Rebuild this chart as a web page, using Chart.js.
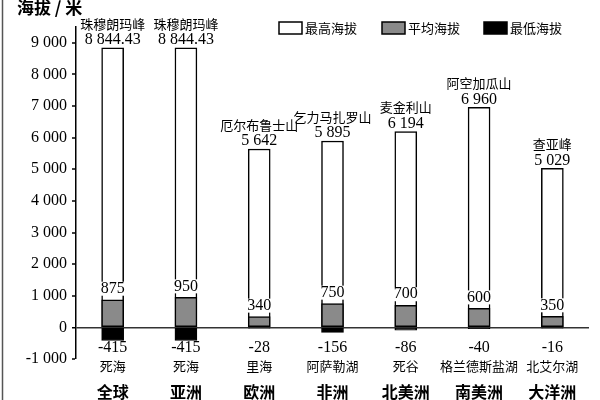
<!DOCTYPE html>
<html>
<head>
<meta charset="utf-8">
<script src="https://cdn.jsdelivr.net/npm/chart.js@4.4.1/dist/chart.umd.min.js"></script>
<style>
html,body{margin:0;padding:0;background:#fff;}
#wrap{width:600px;height:400px;position:relative;}
</style>
</head>
<body>
<div id="wrap"><canvas id="c" width="600" height="400"></canvas></div>
<script>
const categories = ['全球', '亚洲', '欧洲', '非洲', '北美洲', '南美洲', '大洋洲'];
const maxVals = [8844.43, 8844.43, 5642, 5895, 6194, 6960, 5029];
const avgVals = [875, 950, 340, 750, 700, 600, 350];
const minVals = [-415, -415, -28, -156, -86, -40, -16];
const peakNames = ['珠穆朗玛峰', '珠穆朗玛峰', '厄尔布鲁士山', '乞力马扎罗山', '麦金利山', '阿空加瓜山', '查亚峰'];
const lowNames = ['死海', '死海', '里海', '阿萨勒湖', '死谷', '格兰德斯盐湖', '北艾尔湖'];
const seriesNames = ['最高海拔', '平均海拔', '最低海拔'];
const tickVals = [-1000, 0, 1000, 2000, 3000, 4000, 5000, 6000, 7000, 8000, 9000];
const yTitle = '海拔 / 米';

const SERIF = '"Liberation Serif", "Times New Roman", serif';
const CJK = '"Noto Sans CJK SC", "Noto Sans", sans-serif';
const GRAY = '#8a8a8a';

function fmt(v) {
  const neg = v < 0;
  const s = Math.abs(v).toString();
  const parts = s.split('.');
  let ip = parts[0];
  if (ip.length >= 4) ip = ip.replace(/\B(?=(\d{3})+(?!\d))/g, ' ');
  return (neg ? '-' : '') + ip + (parts[1] ? '.' + parts[1] : '');
}

const labelPlugin = {
  id: 'labels',
  afterDatasetsDraw(chart) {
    const ctx = chart.ctx;
    const xs = chart.scales.x, ys = chart.scales.y;
    const ca = chart.chartArea;
    ctx.save();
    ctx.textAlign = 'center';
    ctx.textBaseline = 'middle';
    ctx.fillStyle = '#000';
    categories.forEach((cat, i) => {
      const x = xs.getPixelForValue(i);
      const topY = ys.getPixelForValue(maxVals[i]);
      ctx.font = '13px ' + CJK;
      ctx.fillText(peakNames[i], x, topY - 24);
      ctx.font = '16px ' + SERIF;
      ctx.fillText(fmt(maxVals[i]), x, topY - 8);
      const avgY = ys.getPixelForValue(avgVals[i]) - 11;
      const t = fmt(avgVals[i]);
      const w = ctx.measureText(t).width;
      ctx.fillStyle = '#fff';
      ctx.fillRect(x - w / 2 - 1, avgY - 7, w + 2, 14);
      ctx.fillStyle = '#000';
      ctx.fillText(t, x, avgY);
      ctx.fillText(fmt(minVals[i]), x, ca.bottom - 11);
      ctx.font = '13px ' + CJK;
      ctx.fillText(lowNames[i], x, ca.bottom + 7);
      ctx.font = 'bold 16px ' + CJK;
      ctx.fillText(cat, x, 392);
    });
    ctx.textAlign = 'left';
    ctx.font = 'bold 17px ' + CJK;
    ctx.fillText(yTitle, 17, 8);
    const lx = [279, 382, 484];
    const fills = ['#fff', GRAY, '#000'];
    ctx.font = '13px ' + CJK;
    seriesNames.forEach((n, k) => {
      ctx.fillStyle = fills[k];
      ctx.fillRect(lx[k], 22, 23, 12);
      ctx.strokeStyle = '#000';
      ctx.lineWidth = 1.5;
      ctx.strokeRect(lx[k], 22, 23, 12);
      ctx.fillStyle = '#000';
      ctx.fillText(n, lx[k] + 26, 28.5);
    });
    ctx.strokeStyle = '#555';
    ctx.lineWidth = 1.5;
    ctx.beginPath();
    ctx.moveTo(2.5, 0);
    ctx.lineTo(2.5, 400);
    ctx.stroke();
    ctx.restore();
  }
};

new Chart(document.getElementById('c'), {
  type: 'bar',
  data: {
    labels: categories,
    datasets: [
      { label: seriesNames[0], data: maxVals, backgroundColor: '#fff', borderColor: '#000', borderWidth: 1.5, order: 3 },
      { label: seriesNames[1], data: avgVals, backgroundColor: GRAY, borderColor: '#000', borderWidth: 1.5, order: 2 },
      { label: seriesNames[2], data: minVals, backgroundColor: '#000', borderColor: '#000', borderWidth: 1, order: 1 }
    ]
  },
  options: {
    responsive: false,
    animation: false,
    devicePixelRatio: 1,
    layout: { padding: { top: 27, bottom: 41, left: 0, right: 11 } },
    datasets: { bar: { grouped: false, barThickness: 22, borderSkipped: false } },
    plugins: { legend: { display: false }, tooltip: { enabled: false } },
    scales: {
      x: { display: false },
      y: {
        min: -1000,
        max: 9500,
        afterFit(scale) { scale.width = 76; },
        afterBuildTicks(axis) { axis.ticks = tickVals.map(v => ({ value: v })); },
        ticks: {
          autoSkip: false,
          color: '#000',
          padding: 5,
          font: { family: SERIF, size: 16 },
          callback: v => fmt(v)
        },
        border: { color: '#000', width: 1.5 },
        grid: {
          color: c => (c.tick && c.tick.value === 0) ? '#333' : 'rgba(0,0,0,0)',
          lineWidth: c => (c.tick && c.tick.value === 0) ? 1.5 : 0,
          tickColor: '#000',
          tickLength: 4,
          tickWidth: 1.5
        }
      }
    }
  },
  plugins: [labelPlugin]
});
</script>
</body>
</html>
